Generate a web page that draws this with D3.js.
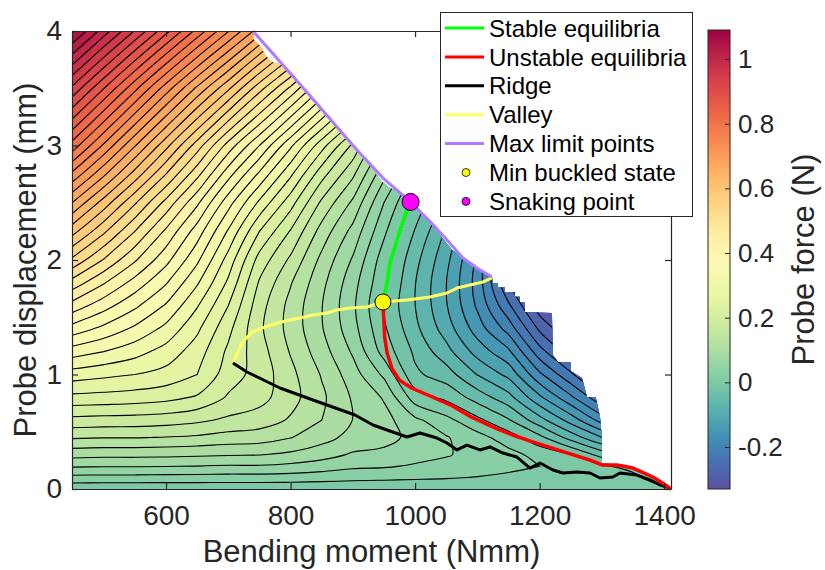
<!DOCTYPE html>
<html lang="en">
<head>
<meta charset="UTF-8">
<title>Probe force landscape</title>
<style>
  body { margin: 0; background: #fff; }
  svg text { font-family: 'Liberation Sans', Arial, Helvetica, sans-serif; }
</style>
</head>
<body>
<svg id="chart" width="825" height="570"></svg>
<script src="https://d3js.org/d3.v7.min.js"></script>
<script>
// grid of probe force (N): rows = displacement, cols = moment
const momentCols = [449, 500, 550, 600, 650, 700, 750, 800, 850, 900, 950, 1000, 1050, 1100, 1150, 1200, 1250, 1300, 1350, 1411];
const dispRows = [0, 0.1, 0.2, 0.3, 0.45, 0.6, 0.8, 1.0, 1.2, 1.4, 1.6, 1.8, 2.0, 2.25, 2.5, 2.75, 3.0, 3.5, 4.0];
const forceGrid = [
  [.005, .005, .005, .005, .005, .005, .005, .005, .005, .005, .005, .005, .005, .005, .004, .004, .004, .003, .002, 0],
  [.043, .042, .042, .041, .041, .040, .040, .039, .036, .033, .031, .029, .027, .024, .021, .019, .0165, .012, .008, -.03],
  [.078, .077, .077, .076, .075, .073, .073, .069, .063, .055, .053, .047, .0425, .036, .030, .025, .015, .004, -.01, -.07],
  [.109, .107, .107, .106, .104, .102, .101, .095, .085, .072, .069, .060, .052, .042, .033, .017, .001, -.035, -.06, -.11],
  [.153, .151, .151, .149, .146, .140, .137, .126, .110, .091, .083, .068, .052, .034, .0126, -.018, -.06, -.10, -.13, -.17],
  [.192, .190, .189, .186, .180, .170, .163, .147, .125, .0995, .084, .056, .0325, .0067, -.022, -.065, -.11, -.16, -.19, -.22],
  [.243, .241, .238, .233, .222, .197, .184, .1595, .130, .097, .0725, .012, -.006, -.036, -.066, -.12, -.17, -.22, -.25, -.27],
  [.288, .281, .275, .266, .250, .212, .190, .157, .123, .086, .045, -.02, -.038, -.076, -.107, -.17, -.22, -.27, -.29, -.30],
  [.338, .325, .310, .290, .262, .220, .186, .148, .111, .0716, .015, -.03, -.066, -.110, -.145, -.215, -.265, -.30, -.31, -.32],
  [.390, .368, .345, .318, .280, .232, .180, .141, .102, .0593, .004, -.0434, -.087, -.137, -.185, -.255, -.30, -.32, -.33, -.33],
  [.440, .410, .380, .347, .302, .250, .185, .142, .101, .055, -.003, -.0497, -.098, -.154, -.22, -.29, -.32, -.33, -.33, -.33],
  [.490, .452, .415, .377, .328, .270, .197, .152, .107, .060, .005, -.049, -.0995, -.160, -.25, -.31, -.33, -.33, -.33, -.33],
  [.545, .498, .453, .408, .355, .290, .215, .170, .118, .072, .012, -.042, -.093, -.155, -.26, -.32, -.33, -.33, -.33, -.33],
  [.610, .555, .500, .445, .388, .322, .250, .198, .140, .092, .030, -.027, -.078, -.140, -.25, -.31, -.32, -.32, -.32, -.32],
  [.675, .614, .553, .492, .430, .360, .295, .235, .170, .120, .050, -.008, -.055, -.120, -.23, -.29, -.30, -.31, -.32, -.32],
  [.745, .680, .615, .550, .483, .410, .345, .280, .210, .155, .082, .018, -.025, -.090, -.20, -.26, -.28, -.29, -.31, -.31],
  [.815, .746, .677, .608, .538, .465, .400, .330, .260, .195, .120, .050, .015, -.050, -.16, -.22, -.25, -.26, -.29, -.31],
  [.945, .876, .807, .738, .670, .605, .535, .470, .400, .330, .260, .190, .120, .050, -.06, -.12, -.16, -.19, -.23, -.27],
  [1.080, 1.013, .948, .883, .817, .752, .687, .622, .556, .491, .426, .360, .295, .230, .10, .03, -.02, -.08, -.14, -.20]
];
const levelStep = 0.025;
const levelRange = [-0.325, 1.075];
const colorRange = [-0.33, 1.09];

const xDomain = [449, 1411];
const yDomain = [0, 4];
const xTicks = [600, 800, 1000, 1200, 1400];
const yTicks = [0, 1, 2, 3, 4];
const cbTicks = [-0.2, 0, 0.2, 0.4, 0.6, 0.8, 1];

// where the measured surface exists (moment, displacement)
const regionEdge = [
  [449, 0], [449, 4], [739.7, 4], [741.3, 3.921], [750.9, 3.869], [760.5, 3.782], [770.2, 3.729],
  [791.1, 3.694], [802.3, 3.624], [823.2, 3.485], [906.7, 2.961], [930.8, 2.803], [945.2, 2.690],
  [956.5, 2.638], [969.3, 2.603], [992.8, 2.507], [1024.9, 2.332], [1040.9, 2.210], [1051.2, 2.140],
  [1059.3, 2.087], [1076.9, 2.017], [1099.4, 1.930], [1123.5, 1.852], [1125.1, 1.799], [1133, 1.799],
  [1133, 1.76], [1144.4, 1.76], [1144.4, 1.721], [1160, 1.721], [1160, 1.68], [1168.5, 1.68],
  [1168.5, 1.633], [1176.5, 1.633], [1176.5, 1.546], [1219.8, 1.537], [1221.4, 1.170], [1229.5, 1.109],
  [1250, 1.109], [1250, 1.03], [1268, 0.969], [1276, 0.803], [1290, 0.803], [1296.9, 0.629],
  [1300.1, 0.428], [1300.1, 0.227], [1324, 0.21], [1350, 0.183], [1382, 0.105], [1398, 0.05], [1411, 0]
];
const stableBranch = [[948.4, 1.633], [954.8, 1.799], [959.7, 1.974], [967.7, 2.114], [975.7, 2.262], [983.8, 2.393], [992.8, 2.507]];
const unstableBranch = [
  [948.4, 1.633], [950, 1.45], [951, 1.33], [955, 1.19], [963, 1.05], [975, 0.95], [995, 0.88], [1025, 0.81],
  [1060, 0.725], [1090, 0.63], [1130, 0.53], [1160, 0.465], [1190, 0.41], [1244, 0.315], [1280, 0.255],
  [1300, 0.21], [1324, 0.21], [1350, 0.183], [1382, 0.105], [1398, 0.05], [1411, 0]
];
const ridgeLine = [
  [707.5, 1.100], [730, 1.022], [783, 0.882], [836, 0.777], [903.5, 0.646], [932.4, 0.559], [954.9, 0.515],
  [987, 0.454], [1007.9, 0.489], [1035.2, 0.445], [1051.2, 0.402], [1067.3, 0.341], [1083.3, 0.384],
  [1104.2, 0.341], [1120.3, 0.367], [1141.1, 0.314], [1163.6, 0.279], [1184.5, 0.183], [1200.6, 0.227],
  [1221.5, 0.166], [1237.5, 0.140], [1260, 0.148], [1280.9, 0.140], [1297, 0.096], [1317.8, 0.105],
  [1329, 0.140], [1356.3, 0.122], [1377.2, 0.079], [1393.3, 0.035], [1404.5, 0.017], [1411, 0]
];
const valleyLine = [
  [707.5, 1.100], [722.0, 1.275], [738.1, 1.371], [759.0, 1.415], [778.2, 1.450], [799.1, 1.476],
  [815.1, 1.493], [836.0, 1.520], [858.5, 1.537], [874.5, 1.563], [895.4, 1.581], [922.7, 1.590],
  [948.4, 1.633], [987.0, 1.651], [1023.9, 1.677], [1051.2, 1.712], [1067.3, 1.755], [1088.2, 1.782],
  [1109.0, 1.808], [1123.5, 1.843]
];
const maxLimitLine = [
  [739.7, 4.0], [823.2, 3.485], [906.7, 2.961], [948.4, 2.716], [992.8, 2.507], [1024.9, 2.332],
  [1051.2, 2.175], [1076.9, 2.017], [1099.4, 1.930], [1123.5, 1.852]
];
const minBuckled = [948.4, 1.633];
const snakingPoint = [992.8, 2.507];
const legendLabels = ['Stable equilibria', 'Unstable equilibria', 'Ridge', 'Valley', 'Max limit points', 'Min buckled state', 'Snaking point'];

const plot = { left: 72, right: 671, top: 31, bottom: 489 };
const axisColor = '#262626';
const x = d3.scaleLinear().domain(xDomain).range([plot.left, plot.right]);
const y = d3.scaleLinear().domain(yDomain).range([plot.bottom, plot.top]);
const color = v => d3.interpolateSpectral(1 - (v - colorRange[0]) / (colorRange[1] - colorRange[0]));
const line = d3.line().x(d => x(d[0])).y(d => y(d[1]));

const svg = d3.select('#chart');
const defs = svg.append('defs');
defs.append('clipPath').attr('id', 'field-clip')
  .append('path').attr('d', line(regionEdge) + 'Z');

// filled contours on the grid
const nx = momentCols.length, ny = dispRows.length;
const nLevels = Math.round((levelRange[1] - levelRange[0]) / levelStep) + 1;
const levels = d3.range(nLevels).map(k => +(levelRange[0] + k * levelStep).toFixed(3));
const contours = d3.contours().size([nx, ny]).thresholds(levels)(forceGrid.flat());

// grid index space -> data -> pixels (grid is not evenly spaced)
const colAt = d3.scaleLinear().domain(d3.range(nx)).range(momentCols).clamp(true);
const rowAt = d3.scaleLinear().domain(d3.range(ny)).range(dispRows).clamp(true);
const toPx = p => [x(colAt(p[0] - 0.5)), y(rowAt(p[1] - 0.5))];
const onEdge = p => p[0] <= 0 || p[0] >= nx || p[1] <= 0 || p[1] >= ny;

const smoothClosed = d3.line().curve(d3.curveCatmullRomClosed.alpha(0.5));
const smoothOpen = d3.line().curve(d3.curveCatmullRom.alpha(0.5));

function bandPath(c) {
  let s = '';
  c.coordinates.forEach(poly => poly.forEach(ring => {
    s += smoothClosed(ring.slice(0, -1).map(toPx));
  }));
  return s;
}
function isoPath(c) {
  let s = '';
  c.coordinates.forEach(poly => poly.forEach(ring => {
    const pts = ring.slice(0, -1);
    const firstEdge = pts.findIndex(onEdge);
    if (firstEdge < 0) { s += smoothClosed(pts.map(toPx)); return; }
    // rotate so the ring starts on the grid border, then split into interior runs
    const rot = pts.slice(firstEdge).concat(pts.slice(0, firstEdge));
    let run = [];
    rot.concat([rot[0]]).forEach(p => {
      if (onEdge(p)) {
        if (run.length > 1) s += smoothOpen(run.map(toPx));
        run = [];
      } else run.push(p);
    });
  }));
  return s;
}

const field = svg.append('g').attr('clip-path', 'url(#field-clip)');
field.append('rect')
  .attr('x', plot.left).attr('y', plot.top)
  .attr('width', plot.right - plot.left).attr('height', plot.bottom - plot.top)
  .attr('fill', color(levels[0]));
field.selectAll('path.band').data(contours).join('path')
  .attr('class', 'band')
  .attr('d', bandPath)
  .attr('fill-rule', 'evenodd')
  .attr('fill', d => color(d.value));
field.selectAll('path.iso').data(contours).join('path')
  .attr('class', 'iso')
  .attr('d', isoPath)
  .attr('fill', 'none')
  .attr('stroke', '#000')
  .attr('stroke-width', 1.1);

// special curves
const curves = [
  { data: valleyLine, stroke: '#ffff66', width: 3 },
  { data: ridgeLine, stroke: '#000000', width: 3 },
  { data: maxLimitLine, stroke: '#b07cff', width: 3 },
  { data: stableBranch, stroke: '#00ff00', width: 3.5 },
  { data: unstableBranch, stroke: '#ff0000', width: 3.5 }
];
svg.append('g').selectAll('path').data(curves).join('path')
  .attr('d', d => line(d.data))
  .attr('fill', 'none')
  .attr('stroke', d => d.stroke)
  .attr('stroke-width', d => d.width)
  .attr('stroke-linejoin', 'round');

svg.append('circle').attr('cx', x(minBuckled[0])).attr('cy', y(minBuckled[1])).attr('r', 8)
  .attr('fill', '#ffff00').attr('stroke', '#000').attr('stroke-width', 1);
svg.append('circle').attr('cx', x(snakingPoint[0])).attr('cy', y(snakingPoint[1])).attr('r', 8.5)
  .attr('fill', '#ff00ff').attr('stroke', '#000').attr('stroke-width', 1);

// axes (box with inward ticks)
function styleAxis(g, withText) {
  g.attr('font-size', 28).attr('font-family', null);
  g.select('.domain').attr('stroke', axisColor).attr('stroke-width', 1.2);
  g.selectAll('.tick line').attr('stroke', axisColor).attr('stroke-width', 1.2);
  g.selectAll('.tick text').attr('fill', axisColor);
  if (!withText) g.selectAll('.tick text').remove();
}
const plain = v => String(v);
svg.append('g').attr('transform', `translate(0,${plot.bottom})`)
  .call(d3.axisBottom(x).tickValues(xTicks).tickFormat(plain).tickSize(-6).tickSizeOuter(0).tickPadding(16))
  .call(g => styleAxis(g, true));
svg.append('g').attr('transform', `translate(0,${plot.top})`)
  .call(d3.axisTop(x).tickValues(xTicks).tickSize(-6).tickSizeOuter(0))
  .call(g => styleAxis(g, false));
svg.append('g').attr('transform', `translate(${plot.left},0)`)
  .call(d3.axisLeft(y).tickValues(yTicks).tickFormat(plain).tickSize(-6).tickSizeOuter(0).tickPadding(10))
  .call(g => styleAxis(g, true));
svg.append('g').attr('transform', `translate(${plot.right},0)`)
  .call(d3.axisRight(y).tickValues(yTicks).tickSize(-6).tickSizeOuter(0))
  .call(g => styleAxis(g, false));

svg.append('text')
  .attr('x', (plot.left + plot.right) / 2).attr('y', 562)
  .attr('text-anchor', 'middle').attr('font-size', 31).attr('fill', axisColor)
  .text('Bending moment (Nmm)');
svg.append('text')
  .attr('transform', `translate(36,${(plot.top + plot.bottom) / 2}) rotate(-90)`)
  .attr('text-anchor', 'middle').attr('font-size', 31).attr('fill', axisColor)
  .text('Probe displacement (mm)');

// colorbar
const cb = { x: 708, w: 22, top: 30, bottom: 489 };
const cbScale = d3.scaleLinear().domain(colorRange).range([cb.bottom, cb.top]);
const grad = defs.append('linearGradient').attr('id', 'cb-grad')
  .attr('x1', 0).attr('y1', 1).attr('x2', 0).attr('y2', 0);
grad.selectAll('stop').data(d3.range(0, 1.0001, 0.02)).join('stop')
  .attr('offset', t => t)
  .attr('stop-color', t => color(colorRange[0] + t * (colorRange[1] - colorRange[0])));
svg.append('rect').attr('x', cb.x).attr('y', cb.top).attr('width', cb.w).attr('height', cb.bottom - cb.top)
  .attr('fill', 'url(#cb-grad)').attr('stroke', axisColor).attr('stroke-width', 1);
const cbAxis = svg.append('g').attr('transform', `translate(${cb.x + cb.w},0)`)
  .call(d3.axisRight(cbScale).tickValues(cbTicks).tickSize(-5).tickSizeOuter(0).tickPadding(8).tickFormat(plain));
cbAxis.attr('font-size', 26).attr('font-family', null);
cbAxis.select('.domain').remove();
cbAxis.selectAll('.tick line').attr('stroke', axisColor);
cbAxis.selectAll('.tick text').attr('fill', axisColor);
svg.append('text')
  .attr('transform', `translate(814,${(cb.top + cb.bottom) / 2}) rotate(-90)`)
  .attr('text-anchor', 'middle').attr('font-size', 31).attr('fill', axisColor)
  .text('Probe force (N)');

// legend
const legendStyles = [
  { kind: 'line', color: '#00ff00' },
  { kind: 'line', color: '#ff0000' },
  { kind: 'line', color: '#000000' },
  { kind: 'line', color: '#ffff66' },
  { kind: 'line', color: '#b07cff' },
  { kind: 'dot', color: '#ffff00' },
  { kind: 'dot', color: '#ff00ff' }
];
const lg = svg.append('g');
lg.append('rect').attr('x', 440.5).attr('y', 12.5).attr('width', 252).attr('height', 204)
  .attr('fill', '#fff').attr('stroke', axisColor).attr('stroke-width', 1);
const rows = lg.selectAll('g.item').data(legendLabels).join('g')
  .attr('class', 'item')
  .attr('transform', (d, i) => `translate(0,${28 + i * 28.9})`);
rows.each(function (label, i) {
  const g = d3.select(this);
  const st = legendStyles[i];
  if (st.kind === 'line') {
    g.append('line').attr('x1', 445).attr('x2', 484).attr('y1', 0).attr('y2', 0)
      .attr('stroke', st.color).attr('stroke-width', 3);
  } else {
    g.append('circle').attr('cx', 466).attr('cy', 0).attr('r', 4)
      .attr('fill', st.color).attr('stroke', '#000').attr('stroke-width', 0.8);
  }
  g.append('text').attr('x', 489).attr('y', 0).attr('dy', '0.36em')
    .attr('font-size', 24).attr('fill', '#000').text(label);
});
</script>
</body>
</html>
